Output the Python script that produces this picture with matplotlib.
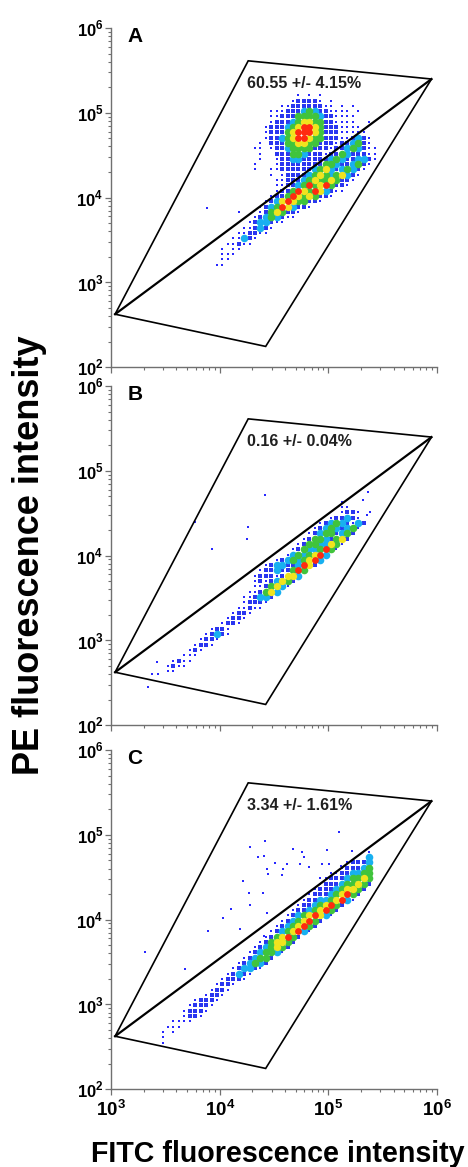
import numpy as np
import matplotlib
matplotlib.use('Agg')
import matplotlib.pyplot as plt
from matplotlib.ticker import LogLocator, NullFormatter

plt.rcParams['font.family'] = ['Liberation Sans', 'DejaVu Sans']
plt.rcParams['font.weight'] = 'bold'
plt.rcParams['mathtext.fontset'] = 'custom'
plt.rcParams['mathtext.rm'] = 'Liberation Sans'
plt.rcParams['mathtext.bf'] = 'Liberation Sans:bold'

# gate polygon, same in all three panels (FITC, PE)
gate_x = [1.09e3, 1.83e4, 8.9e5, 2.65e4]
gate_y = [4.2e2, 4.1e5, 2.5e5, 1.75e2]

panel_letters = ['A', 'B', 'C']
gate_percent = ['60.55 +/- 4.15%', '0.16 +/- 0.04%', '3.34 +/- 1.61%']

x_ticks = [1e3, 1e4, 1e5, 1e6]
y_ticks = [1e2, 1e3, 1e4, 1e5, 1e6]

# density maps, one entry per row from the top:
# (first column, levels)  ' ' empty  '.' single event
# '1' blue  '2' cyan  '3' green  '4' yellow  '5' red
density_a = [
    (0, ""),
    (16, ". . ."),
    (15, ".1111. ."),
    (13, "..111111.. . ."),
    (11, "...11123211.... ."),
    (11, "..1113333211...."),
    (11, ".11123443311....  ."),
    (10, ".1112345543111...."),
    (10, ".1113455543111....."),
    (10, ".1123455433111..121."),
    (9, ". 111334433111.11231."),
    (8, ".. .1123333111.112321.."),
    (9, ".  111332111.1132111.."),
    (9, ".  .11221111123211221."),
    (8, ".   .1111111133211231."),
    (8, ".  ..111111234212321."),
    (11, ". .1111234323421."),
    (12, "..111234334311."),
    (12, "..11235345311."),
    (12, ".1135435421.."),
    (11, ".1135434311."),
    (10, ".124543311."),
    (9, ".12354211."),
    (5, ".   .134311."),
    (8, ".12321.."),
    (7, ".1221.."),
    (6, "..121."),
    (5, "..11.."),
    (4, "..21."),
    (3, "..1.."),
    (2, ". .."),
    (2, "..."),
    (2, ".."),
    (1, ".."),
]

density_b = [
    (0, ""),
    (0, ""),
    (0, ""),
    (36, "."),
    (36, ".."),
    (36, ".11."),
    (34, ".1121."),
    (32, ".12321.21"),
    (31, ".1232123."),
    (30, ".12331231"),
    (29, ".13321341"),
    (28, ".1332243."),
    (27, ".1322353."),
    (26, ".2323452"),
    (24, ".12323452"),
    (22, ".122112541"),
    (21, ".11211353"),
    (20, ".111.1442"),
    (20, ".1.12431"),
    (20, "..1342."),
    (19, "..1342"),
    (18, "..1221"),
    (18, ".111."),
    (17, "..1.."),
    (16, ".11."),
    (15, ".11."),
    (14, ".11."),
    (12, ".11."),
    (11, ".121."),
    (10, ".11."),
    (9, ".11."),
    (8, ".1."),
    (7, "..."),
    (5, ".1.."),
    (4, ".1.."),
    (4, ".."),
]

density_c = [
    (0, ""),
    (0, ""),
    (0, ""),
    (0, ""),
    (41, "."),
    (41, "2"),
    (37, ".1112"),
    (36, ".11123"),
    (34, "..112233"),
    (33, ".11123343"),
    (32, ".111233431"),
    (31, ".111234431"),
    (30, ".111234531"),
    (29, ".11223452."),
    (28, ".11234531"),
    (27, ".11234531"),
    (26, ".1234542."),
    (25, ".1234531"),
    (24, ".1234531"),
    (23, ".123452."),
    (22, ".134531"),
    (21, ".134431"),
    (20, ".123431"),
    (19, ".12332."),
    (18, ".12331"),
    (17, ".12321"),
    (16, ".1221."),
    (15, ".121."),
    (14, ".111."),
    (13, ".11."),
    (12, ".11."),
    (11, ".11."),
    (9, ".111."),
    (8, ".111."),
    (7, ".111."),
    (7, ".11."),
    (5, "...."),
    (4, "..."),
    (3, ". ."),
    (3, "."),
    (3, "."),
]

# log10 of (left edge of first column, top edge of first row) for each map
map_origin = [(3.90, 5.30), (3.30, 4.855), (3.30, 5.08)]
cell_w = 0.05
cell_h = 0.0625

# isolated events
single_a_x = [7.64e3]
single_a_y = [7.52e3]
single_b_x = [2.61e4, 5.93e3, 1.84e4, 1.79e4, 8.43e3, 2.33e5, 2.07e5,
              2.42e5, 2.28e5, 2.21e3, 2.63e3, 2.37e3, 2.73e3]
single_b_y = [5.18e4, 2.51e4, 2.19e4, 1.57e4, 1.18e4, 5.66e4, 4.52e4,
              3.29e4, 3.01e4, 2.83e2, 5.50e2, 3.96e2, 3.96e2]
single_c_x = [1.25e5, 2.61e4, 1.90e4, 4.69e4, 9.8e4, 1.65e5, 5.75e4,
              2.27e4, 2.56e4, 5.97e4, 3.23e4, 4.13e4, 5.48e4, 6.64e4,
              8.67e4, 1.01e5, 1.32e5, 2.70e4, 3.79e4, 2.81e4, 3.72e4,
              1.65e4, 8.37e4, 1.86e4, 2.48e4, 1.90e4, 1.26e4, 1.08e4,
              2.70e4, 1.54e4, 7.87e3, 2.58e4, 2.06e3, 4.80e3]
single_c_y = [1.09e5, 8.5e4, 7.1e4, 6.8e4, 6.7e4, 6.4e4, 6.2e4,
              5.4e4, 5.6e4, 5.4e4, 4.69e4, 4.52e4, 4.52e4, 4.12e4,
              4.52e4, 4.52e4, 4.32e4, 3.91e4, 3.91e4, 3.44e4, 3.35e4,
              2.87e4, 3.12e4, 2.07e4, 2.07e4, 1.48e4, 1.32e4, 1.05e4,
              1.18e4, 7.66e3, 7.31e3, 6.38e3, 4.17e3, 2.58e3]

density_maps = [density_a, density_b, density_c]
singles = [(single_a_x, single_a_y), (single_b_x, single_b_y),
           (single_c_x, single_c_y)]

level_color = {'.': '#2828ff', '1': '#2a36f0', '2': '#18b0f0',
               '3': '#40c43c', '4': '#f0e41e', '5': '#ff2a10'}
level_size = {'.': 3.0, '1': 7, '2': 30, '3': 30, '4': 28, '5': 24}
level_marker = {'.': 's', '1': 's', '2': 'o', '3': 'o', '4': 'o', '5': 'o'}

axis_grey = '#707070'


def draw_density(ax, rows, origin):
    """Puts one marker per filled cell of a density map."""
    x0, y0 = origin
    pts = {k: ([], []) for k in level_color}
    for r, (start, levels) in enumerate(rows):
        for i, ch in enumerate(levels):
            if ch == ' ':
                continue
            pts[ch][0].append(10 ** (x0 + cell_w * (start + i + 0.5)))
            pts[ch][1].append(10 ** (y0 - cell_h * (r + 0.5)))
    for ch in '.12345':
        xs, ys = pts[ch]
        ax.scatter(xs, ys, s=level_size[ch], c=level_color[ch],
                   marker=level_marker[ch], linewidths=0, zorder=2)


fig = plt.figure(figsize=(4.68, 11.67), dpi=100)
bottoms = [0.6855, 0.3787, 0.0668]

for k in range(3):
    ax = fig.add_axes([0.2372, bottoms[k], 0.6966, 0.2905])
    ax.set_xscale('log')
    ax.set_yscale('log')
    ax.set_xlim(1e3, 1e6)
    ax.set_ylim(1e2, 1e6)

    draw_density(ax, density_maps[k], map_origin[k])
    sx, sy = singles[k]
    ax.scatter(sx, sy, s=level_size['.'], c=level_color['.'], marker='s',
               linewidths=0, zorder=2)

    ax.fill(gate_x, gate_y, fill=False, ec='black', lw=1.2, zorder=3)
    ax.plot([gate_x[0], gate_x[2]], [gate_y[0], gate_y[2]], color='black',
            lw=1.6, zorder=3)

    ax.text(0.05, 1.004, panel_letters[k], transform=ax.transAxes,
            fontsize=15, fontweight='bold', va='top', ha='left')
    ax.text(1.78e4, 10 ** 5.34, gate_percent[k], fontsize=11.5,
            fontweight='bold', va='center', ha='left', color='#202020')

    for side in ['top', 'right']:
        ax.spines[side].set_visible(False)
    for side in ['left', 'bottom']:
        ax.spines[side].set_color(axis_grey)
        ax.spines[side].set_linewidth(1.0)

    ax.set_xticks(x_ticks)
    ax.set_yticks(y_ticks)
    ax.xaxis.set_minor_locator(LogLocator(base=10, subs=np.arange(2, 10) * 1.0,
                                          numticks=20))
    ax.yaxis.set_minor_locator(LogLocator(base=10, subs=np.arange(2, 10) * 1.0,
                                          numticks=20))
    ax.xaxis.set_minor_formatter(NullFormatter())
    ax.yaxis.set_minor_formatter(NullFormatter())
    ax.set_yticklabels([r'$\mathbf{10}^{\mathrm{%d}}$' % int(np.log10(t))
                        for t in y_ticks])
    if k == 2:
        ax.set_xticklabels([r'$\mathbf{10}^{\mathrm{%d}}$' % int(np.log10(t))
                            for t in x_ticks])
    else:
        ax.set_xticklabels([])

    ax.tick_params(which='major', length=4.5, width=0.9, color=axis_grey,
                   direction='out')
    ax.tick_params(which='minor', length=2.5, width=0.8, color=axis_grey,
                   direction='out')
    ax.tick_params(axis='y', which='major', labelsize=12, pad=1)
    ax.tick_params(axis='x', which='major', labelsize=13.5, pad=2.5)

fig.text(0.064, 0.524, 'PE fluorescence intensity', rotation=90,
         fontsize=26, fontweight='bold', ha='center', va='center')
fig.text(0.594, 0.004, 'FITC fluorescence intensity', fontsize=20.6,
         fontweight='bold', ha='center', va='baseline')

fig.savefig('out.png', dpi=100)
